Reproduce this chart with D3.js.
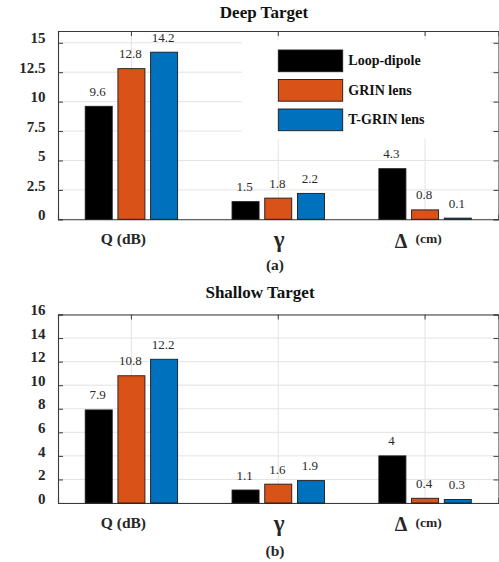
<!DOCTYPE html>
<html>
<head>
<meta charset="utf-8">
<script src="https://cdn.jsdelivr.net/npm/d3@7"></script>
<style>
  html, body { margin: 0; padding: 0; background: #fff; }
  svg { display: block; }
</style>
</head>
<body>
<svg id="chart" width="499" height="562"></svg>
<script>
// ---------- data ----------
const categories = ["Q (dB)", "γ", "Δ (cm)"];
const series = ["Loop-dipole", "GRIN lens", "T-GRIN lens"];
const colors = ["#000000", "#D95319", "#0072BD"];

const deepLoopDipole = [9.6, 1.5, 4.3];
const deepGrin = [12.8, 1.8, 0.8];
const deepTGrin = [14.2, 2.2, 0.1];

const shallowLoopDipole = [7.9, 1.1, 4];
const shallowGrin = [10.8, 1.6, 0.4];
const shallowTGrin = [12.2, 1.9, 0.3];

const deepTicks = [0, 2.5, 5, 7.5, 10, 12.5, 15];
const shallowTicks = [0, 2, 4, 6, 8, 10, 12, 14, 16];

const panels = [
  { title: "Deep Target", tag: "(a)", values: [deepLoopDipole, deepGrin, deepTGrin], ticks: deepTicks,
    yMax: 16, top: 31, bottom: 219.3, legend: true },
  { title: "Shallow Target", tag: "(b)", values: [shallowLoopDipole, shallowGrin, shallowTGrin], ticks: shallowTicks,
    yMax: 16, top: 314.5, bottom: 503, legend: false }
];

// ---------- drawing ----------
const FONT = "'Liberation Serif', 'Tinos', 'Times New Roman', Times, 'DejaVu Serif', serif";
const svg = d3.select("#chart").attr("font-family", FONT);
const left = 58, right = 498.5;
const axisColor = "#3a3a3a";
const gridColor = "#e3e3e3";

const x = d3.scaleBand().domain(categories).range([left, right]).padding(0);
const inner = d3.scaleBand().domain(series).range([-46.2, 46.2]).paddingInner(0.174).paddingOuter(0);

function txt(sel) { return sel.append("text").attr("font-family", FONT); }

panels.forEach((p, pi) => {
  const g = svg.append("g");
  const y = d3.scaleLinear().domain([0, p.yMax]).range([p.bottom, p.top]);
  const cx = c => x(c) + x.bandwidth() / 2;

  // horizontal gridlines
  g.append("g").selectAll("line").data(p.ticks).join("line")
    .attr("x1", left).attr("x2", right)
    .attr("y1", d => y(d)).attr("y2", d => y(d))
    .attr("stroke", gridColor).attr("stroke-width", 1);
  // vertical gridlines
  g.append("g").selectAll("line").data(categories).join("line")
    .attr("x1", d => cx(d)).attr("x2", d => cx(d))
    .attr("y1", p.top).attr("y2", p.bottom)
    .attr("stroke", gridColor).attr("stroke-width", 1);

  // legend background (covers grid)
  if (p.legend) {
    g.append("rect").attr("x", 242).attr("y", 40).attr("width", 248).attr("height", 99)
      .attr("fill", "#fff");
  }

  // axes box with inward ticks
  const yAxisL = d3.axisLeft(y).tickValues(p.ticks).tickSize(-5).tickFormat("");
  const gl = g.append("g").attr("transform", `translate(${left},0)`).call(yAxisL);
  const yAxisR = d3.axisRight(y).tickValues(p.ticks).tickSize(-5).tickFormat("");
  const gr = g.append("g").attr("transform", `translate(${right},0)`).call(yAxisR);
  const xAxisT = d3.axisTop(x).tickSize(-5).tickFormat("");
  const gt = g.append("g").attr("transform", `translate(0,${p.top})`).call(xAxisT);
  const xAxisB = d3.axisBottom(x).tickSize(-5).tickFormat("");
  const gb = g.append("g").attr("transform", `translate(0,${p.bottom})`).call(xAxisB);
  [gl, gr, gt, gb].forEach(a => {
    a.selectAll("path.domain").attr("stroke", axisColor).attr("stroke-width", 1.1);
    a.selectAll(".tick line").attr("stroke", axisColor).attr("stroke-width", 1);
  });

  // y tick labels
  g.append("g").selectAll("text").data(p.ticks).join("text")
    .attr("font-family", FONT)
    .attr("x", 45.5).attr("y", d => y(d) - 4.3)
    .attr("text-anchor", "end").attr("dominant-baseline", "central")
    .attr("font-size", 15).attr("font-weight", "bold").attr("fill", "#262626")
    .text(d => d3.format("")(d));

  // bars
  series.forEach((s, si) => {
    const vals = p.values[si];
    g.append("g").selectAll("rect").data(categories).join("rect")
      .attr("x", (c) => cx(c) + inner(s))
      .attr("width", inner.bandwidth())
      .attr("y", (c, i) => y(vals[i]))
      .attr("height", (c, i) => y(0) - y(vals[i]))
      .attr("fill", colors[si])
      .attr("stroke", "#1a1a1a").attr("stroke-width", 0.9);
    g.append("g").selectAll("text").data(categories).join("text")
      .attr("font-family", FONT)
      .attr("x", (c) => cx(c) + inner(s) + inner.bandwidth() / 2 - 1)
      .attr("y", (c, i) => y(vals[i]) - 10.5)
      .attr("text-anchor", "middle")
      .attr("font-size", 13).attr("fill", "#2a2a2a")
      .text((c, i) => vals[i]);
  });

  // title
  txt(g).attr("x", pi === 0 ? 264 : 260).attr("y", pi === 0 ? 17.5 : 298)
    .attr("text-anchor", "middle").attr("font-size", 17).attr("font-weight", "bold")
    .attr("fill", "#111").text(p.title);

  // category labels
  const b = p.bottom;
  txt(g).attr("x", cx(categories[0]) - 8).attr("y", b + 24.7)
    .attr("text-anchor", "middle").attr("font-size", 15.5).attr("font-weight", "bold")
    .attr("fill", "#262626").text(categories[0]);
  txt(g).attr("x", cx(categories[1]) + 1).attr("y", b + 28)
    .attr("text-anchor", "middle").attr("font-size", 23).attr("font-weight", "bold")
    .attr("fill", "#262626").text("γ");
  txt(g).attr("x", cx(categories[2]) - 24).attr("y", b + 28.3)
    .attr("text-anchor", "middle").attr("font-size", 20).attr("font-weight", "bold")
    .attr("fill", "#262626").text("Δ");
  txt(g).attr("x", cx(categories[2]) - 9.5).attr("y", b + 23.5)
    .attr("text-anchor", "start").attr("font-size", 13.5).attr("font-weight", "bold")
    .attr("fill", "#262626").text("(cm)");

  // panel tag
  txt(g).attr("x", 275).attr("y", b + (pi === 0 ? 51 : 53))
    .attr("text-anchor", "middle").attr("font-size", 15.5).attr("font-weight", "bold")
    .attr("fill", "#262626").text(p.tag);

  // legend
  if (p.legend) {
    const lg = g.append("g").attr("transform", "translate(278.3,50)");
    series.forEach((s, si) => {
      lg.append("rect").attr("x", 0).attr("y", si * 29.5).attr("width", 64.4).attr("height", 21.7)
        .attr("fill", colors[si]).attr("stroke", "#1a1a1a").attr("stroke-width", 0.9);
      txt(lg).attr("x", 70).attr("y", si * 29.5 + 10.9)
        .attr("dominant-baseline", "central").attr("font-size", 14).attr("font-weight", "bold")
        .attr("fill", "#111").text(s);
    });
  }
});
</script>
</body>
</html>
